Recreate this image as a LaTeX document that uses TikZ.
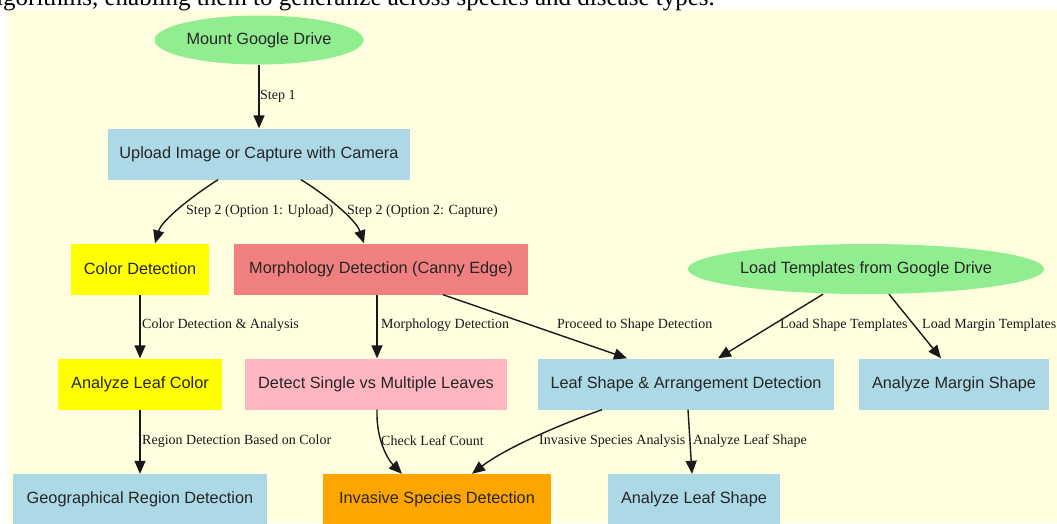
\documentclass[tikz,border=0pt]{standalone}
\usepackage{fontspec}
\setmainfont{Liberation Serif}
\newfontfamily\nodefont{Liberation Sans}
\usetikzlibrary{shapes.geometric,arrows.meta}
\definecolor{bgcream}{HTML}{FFFFE0}
\definecolor{lblue}{HTML}{ADD8E6}
\definecolor{lgreen}{HTML}{90EE90}
\definecolor{lcoral}{HTML}{F08080}
\definecolor{lpink}{HTML}{FFB6C1}
\definecolor{morange}{HTML}{FFA500}
\definecolor{myellow}{HTML}{FFFF00}
\begin{document}
\begin{tikzpicture}[x=1pt,y=-1pt,
  box/.style={rectangle, inner sep=0pt, minimum height=51pt, font=\nodefont\fontsize{16.3}{19}\selectfont, text=black!85},
  oval/.style={ellipse, inner sep=0pt, fill=lgreen, font=\nodefont\fontsize{16.3}{19}\selectfont, text=black!85},
  conn/.style={-{Triangle[length=13pt,width=11pt]}, line width=1.4pt, black!90},
  lbl/.style={font=\fontsize{14}{16}\selectfont, anchor=west, inner sep=0pt, text=black!90}]
\useasboundingbox (0,0) rectangle (1057,523);
\fill[white] (0,0) rectangle (1057,523);
\fill[bgcream] (8,10) rectangle (1057,523);
\begin{scope}
  \clip (0,0) rectangle (1057,10.5);
  \node[anchor=base east, inner sep=0pt, font=\fontsize{25}{30}\selectfont] (toptext) at (715,5) {algorithms, enabling them to generalize across species and disease types.};
\end{scope}

% nodes
\node[oval, minimum width=209pt, minimum height=49pt] (mount) at (259,40) {Mount Google Drive};
\node[box, fill=lblue, minimum width=302pt] (upload) at (259,154) {Upload Image or Capture with Camera};
\node[box, fill=myellow, minimum width=138pt] (color) at (140,269) {Color Detection};
\node[box, fill=lcoral, minimum width=294pt] (morph) at (381,269) {Morphology Detection (Canny Edge)};
\node[oval, minimum width=341pt, minimum height=50pt] (load) at (866,269) {Load Templates from Google Drive};
\node[box, fill=myellow, minimum width=164pt] (alc) at (140,384) {Analyze Leaf Color};
\node[box, fill=lpink, minimum width=262pt] (detect) at (376,384) {Detect Single vs Multiple Leaves};
\node[box, fill=lblue, minimum width=296pt] (leafshape) at (686,384) {Leaf Shape \& Arrangement Detection};
\node[box, fill=lblue, minimum width=190pt] (margin) at (954,384) {Analyze Margin Shape};
\node[box, fill=lblue, minimum width=254pt] (geo) at (140,499.5) {Geographical Region Detection};
\node[box, fill=morange, minimum width=228pt] (invasive) at (437,499.5) {Invasive Species Detection};
\node[box, fill=lblue, minimum width=172pt] (als) at (694,499.5) {Analyze Leaf Shape};

% connectors
\draw[conn] (mount.south) -- (upload.north);
\node[lbl] (l1) at (260,96) {Step 1};

\draw[conn] ([xshift=-41pt]upload.south) .. controls ([xshift=-66pt,yshift=-16pt]upload.south) and ([xshift=-97pt,yshift=-40pt]upload.south) .. ([xshift=15pt]color.north);
\node[lbl] (l2) at (186,211) {Step 2 (Option 1: Upload)};

\draw[conn] ([xshift=42pt]upload.south) .. controls ([xshift=68pt,yshift=-16pt]upload.south) and ([xshift=97pt,yshift=-40pt]upload.south) .. ([xshift=-17pt]morph.north);
\node[lbl] (l3) at (347,211) {Step 2 (Option 2: Capture)};

\draw[conn] (color.south) -- (alc.north);
\node[lbl] (l4) at (142,325) {Color Detection \& Analysis};

\draw[conn] ([xshift=-4pt]morph.south) -- ([xshift=1pt]detect.north);
\node[lbl] (l5) at (381,325) {Morphology Detection};

\draw[conn] ([xshift=62pt]morph.south) -- ([xshift=-59pt]leafshape.north);
\node[lbl] (l6) at (557,325) {Proceed to Shape Detection};

\draw[conn] ([xshift=-43pt]load.south) -- ([xshift=32pt]leafshape.north);
\node[lbl] (l7) at (780,325) {Load Shape Templates};

\draw[conn] ([xshift=23pt]load.south) -- ([xshift=-13pt]margin.north);
\node[lbl] (l8) at (922,325) {Load Margin Templates};

\draw[conn] (alc.south) -- (geo.north);
\node[lbl] (l9) at (142,441) {Region Detection Based on Color};

\draw[conn] ([xshift=1pt]detect.south) .. controls ([xshift=0pt,yshift=-30pt]detect.south) and ([xshift=12pt,yshift=-50pt]detect.south) .. ([xshift=-35pt]invasive.north);
\node[lbl] (l10) at (381,441) {Check Leaf Count};

\draw[conn] ([xshift=-84pt]leafshape.south) .. controls ([xshift=-124pt,yshift=-14pt]leafshape.south) and ([xshift=-180pt,yshift=-38pt]leafshape.south) .. ([xshift=35pt]invasive.north);
\node[lbl] (l11) at (539,441) {Invasive Species Analysis};

\draw[conn] ([xshift=2pt]leafshape.south) -- ([xshift=-2pt]als.north);
\node[lbl] (l12) at (693,441) {Analyze Leaf Shape};
\end{tikzpicture}
\end{document}
